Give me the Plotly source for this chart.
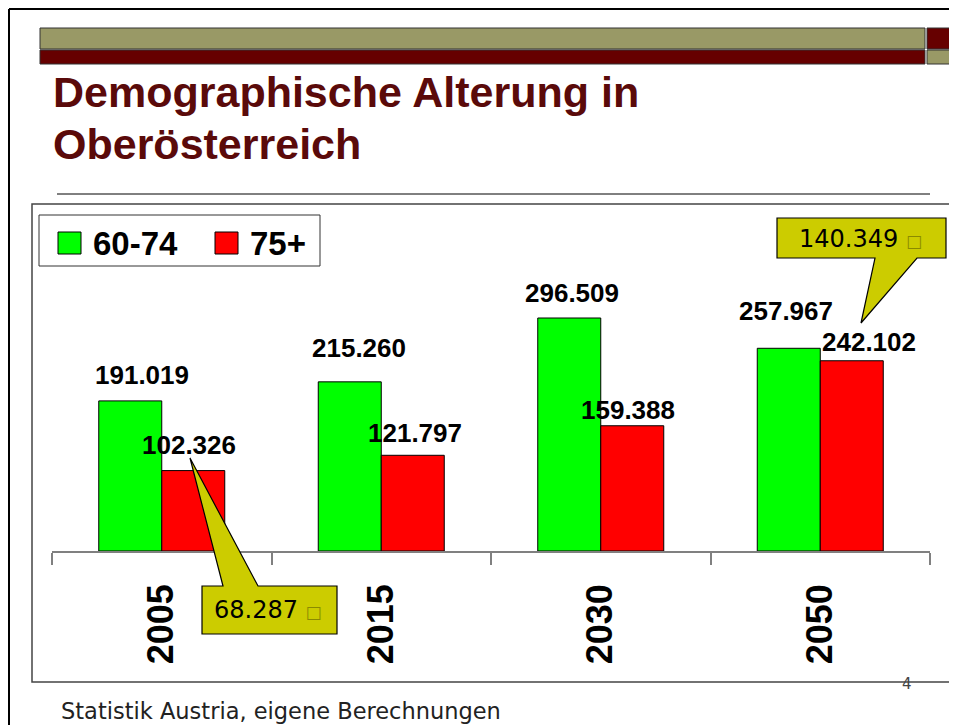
import plotly.graph_objects as go

# ---- data ----
years = ["2005", "2015", "2030", "2050"]
series_names = ["60-74", "75+"]
age_60_74 = [191019, 215260, 296509, 257967]
age_75_plus = [102326, 121797, 159388, 242102]
callout_values = [68287, 140349]   # callout boxes
title_lines = ["Demographische Alterung in", "Oberösterreich"]
source_text = "Statistik Austria, eigene Berechnungen"
page_no = "4"

# the page body has an 8px margin, so work in reference pixels and shift
OFF = 8
W, H = 957 - OFF, 725 - OFF
GREEN = "#00ff00"
RED = "#ff0000"
OLIVE = "#999966"
MAROON = "#660000"
CALLOUT = "#cccc00"
TITLE_C = "#5a0a0a"


def px(x):
    return (x - OFF) / W


def py(y):
    return 1 - (y - OFF) / H


def de(v):
    return f"{v:,}".replace(",", ".")


fig = go.Figure()
fig.add_trace(go.Bar(x=years, y=age_60_74, name=series_names[0],
                     marker=dict(color=GREEN, line=dict(color="#000000", width=1)),
                     showlegend=False))
fig.add_trace(go.Bar(x=years, y=age_75_plus, name=series_names[1],
                     marker=dict(color=RED, line=dict(color="#000000", width=1)),
                     showlegend=False))

shapes = []
annotations = []

# slide frame
shapes.append(dict(type="line", xref="paper", yref="paper", x0=px(9), x1=1.0, y0=py(9), y1=py(9),
                   line=dict(color="#000000", width=2)))
shapes.append(dict(type="line", xref="paper", yref="paper", x0=px(9), x1=px(9), y0=py(9), y1=0,
                   line=dict(color="#000000", width=2)))
# header bars
shapes.append(dict(type="rect", xref="paper", yref="paper", x0=px(40), x1=px(925), y0=py(28), y1=py(49),
                   fillcolor=OLIVE, line=dict(color="#333333", width=1)))
shapes.append(dict(type="rect", xref="paper", yref="paper", x0=px(40), x1=px(925), y0=py(50), y1=py(64),
                   fillcolor=MAROON, line=dict(color="#333333", width=1)))
shapes.append(dict(type="rect", xref="paper", yref="paper", x0=px(927), x1=px(950), y0=py(28), y1=py(49),
                   fillcolor=MAROON, line=dict(color="#333333", width=1)))
shapes.append(dict(type="rect", xref="paper", yref="paper", x0=px(927), x1=px(950), y0=py(50), y1=py(64),
                   fillcolor=OLIVE, line=dict(color="#333333", width=1)))
# title underline
shapes.append(dict(type="line", xref="paper", yref="paper", x0=px(57), x1=px(930), y0=py(194), y1=py(194),
                   line=dict(color="#000000", width=1)))
# chart box
shapes.append(dict(type="rect", xref="paper", yref="paper", x0=px(32), x1=px(951), y0=py(204), y1=py(682),
                   line=dict(color="#444444", width=1.5), fillcolor="rgba(0,0,0,0)"))
# legend
shapes.append(dict(type="rect", xref="paper", yref="paper", x0=px(39), x1=px(320), y0=py(215), y1=py(266),
                   line=dict(color="#333333", width=1), fillcolor="#ffffff"))
for sx, col, name in [(58, GREEN, series_names[0]), (215, RED, series_names[1])]:
    shapes.append(dict(type="rect", xref="paper", yref="paper", x0=px(sx), x1=px(sx + 23), y0=py(232), y1=py(254),
                       line=dict(color="#000000", width=1), fillcolor=col))
    annotations.append(dict(xref="paper", yref="paper", x=px(sx + 33), y=py(243), text=f"<b>{name}</b>",
                            xanchor="left", yanchor="middle", showarrow=False,
                            font=dict(family="Liberation Sans, Arial", size=33, color="#000000")))


def path_px(points):
    return "M" + " L".join(f"{px(x):.5f},{py(y):.5f}" for x, y in points) + " Z"


# callout 1 (68.287)
shapes.append(dict(type="path", xref="paper", yref="paper",
                   path=path_px([(202, 586), (223, 586), (190, 458), (258, 586), (337, 586), (337, 634), (202, 634)]),
                   fillcolor=CALLOUT, line=dict(color="#000000", width=1.2)))
# callout 2 (140.349)
shapes.append(dict(type="path", xref="paper", yref="paper",
                   path=path_px([(777, 218), (946, 218), (946, 258), (917, 258), (861, 323), (875, 258), (777, 258)]),
                   fillcolor=CALLOUT, line=dict(color="#000000", width=1.2)))

for (cx, cy), v in zip([(268, 610), (860, 239)], callout_values):
    annotations.append(dict(xref="paper", yref="paper", x=px(cx), y=py(cy),
                            text=f"{de(v)} <span style='color:#8a8a00;font-size:17px'>□</span>",
                            xanchor="center", yanchor="middle", showarrow=False,
                            font=dict(family="DejaVu Sans", size=24, color="#000000")))

# data labels (x given as category index)
g_dx = [12, 9, 3, -3]
g_dy = [26, 34, 25, 37]
r_dx = [-4, 2, -4, 17]
r_dy = [26, 22, 16, 19]
for i, yr in enumerate(years):
    annotations.append(dict(xref="x", yref="y", x=i, y=age_60_74[i], text=f"<b>{de(age_60_74[i])}</b>",
                            xshift=-31.5 + g_dx[i], yshift=g_dy[i], showarrow=False,
                            xanchor="center", yanchor="middle",
                            font=dict(family="Liberation Sans, Arial", size=26, color="#000000")))
    annotations.append(dict(xref="x", yref="y", x=i, y=age_75_plus[i], text=f"<b>{de(age_75_plus[i])}</b>",
                            xshift=31.5 + r_dx[i], yshift=r_dy[i], showarrow=False,
                            xanchor="center", yanchor="middle",
                            font=dict(family="Liberation Sans, Arial", size=26, color="#000000")))

# title
tfont = dict(family="Liberation Sans, Arial", size=43, color=TITLE_C)
for i, line in enumerate(title_lines):
    annotations.append(dict(xref="paper", yref="paper", x=px(51), y=py(92 + 52 * i), text=f"<b>{line}</b>",
                            xanchor="left", yanchor="middle", showarrow=False, font=tfont))

# footer
annotations.append(dict(xref="paper", yref="paper", x=px(59), y=py(711), text=source_text,
                        xanchor="left", yanchor="middle", showarrow=False,
                        font=dict(family="DejaVu Sans", size=22.5, color="#222222")))
annotations.append(dict(xref="paper", yref="paper", x=px(907), y=py(684), text=page_no,
                        xanchor="center", yanchor="middle", showarrow=False,
                        font=dict(family="DejaVu Sans", size=15, color="#444444")))

fig.update_layout(
    width=W, height=H,
    margin=dict(l=0, r=0, t=0, b=0, autoexpand=False),
    paper_bgcolor="#ffffff", plot_bgcolor="rgba(0,0,0,0)",
    barmode="group", bargap=0.426, bargroupgap=0,
    shapes=shapes, annotations=annotations,
    showlegend=False,
    xaxis=dict(domain=[px(52), px(930)], type="category", range=[-0.5, len(years) - 0.5], autorange=False,
               automargin=False, showline=True, linecolor="#808080", linewidth=1.5,
               ticks="outside", tickson="boundaries", ticklen=12, tickcolor="#808080", tickwidth=1.5,
               tickangle=-90, ticklabelstandoff=17, showgrid=False, zeroline=False,
               tickfont=dict(family="Liberation Sans, Arial", size=36, color="#000000", weight="bold")),
    yaxis=dict(domain=[py(551), py(215)], range=[0, 427590], autorange=False, visible=False,
               showgrid=False, automargin=False),
)

fig.write_html("out.html")
